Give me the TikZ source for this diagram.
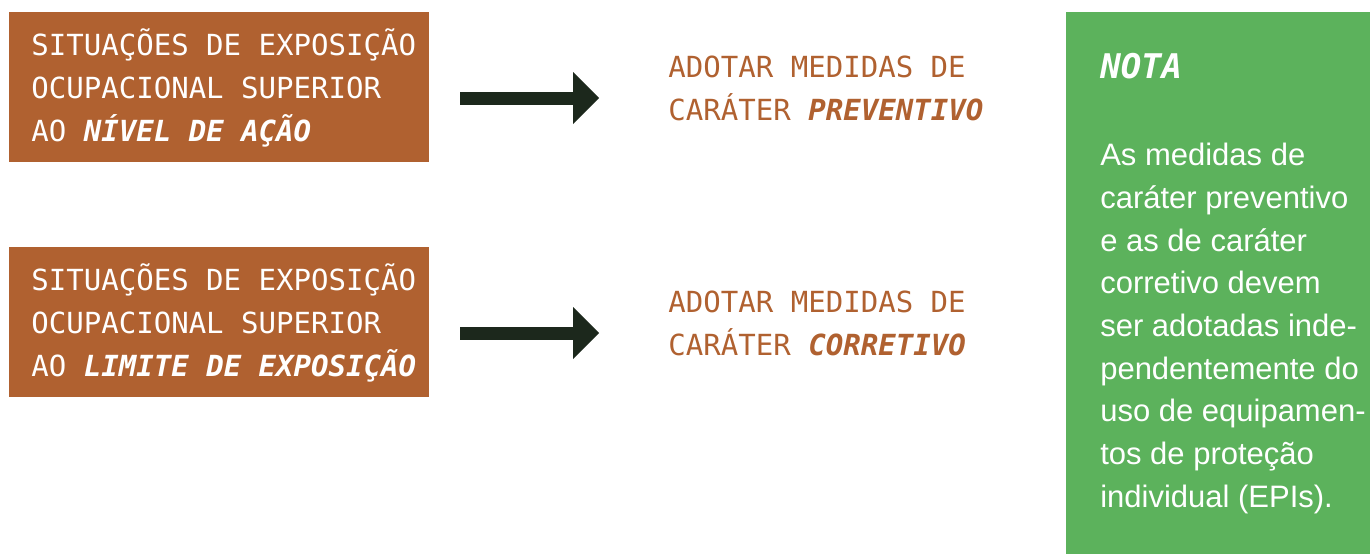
\documentclass[tikz,border=0pt]{standalone}
\usepackage{fontspec}
\setmainfont{Liberation Sans}
\newfontfamily\monofonte{DejaVu Sans Mono}
\usetikzlibrary{arrows.meta,positioning}

\definecolor{telha}{RGB}{176,97,48}
\definecolor{verde}{RGB}{92,178,92}
\definecolor{escuro}{RGB}{28,40,28}

\tikzset{
  caixa/.style={fill=telha, minimum width=315pt, minimum height=112.5pt, inner sep=0pt},
  rotulo/.style={text=white, anchor=base west, inner sep=0pt, align=left,
    font=\monofonte\fontsize{21.8}{32.2}\selectfont},
  medida/.style={text=telha, anchor=base west, inner sep=0pt, align=left,
    font=\monofonte\fontsize{21.8}{32.2}\selectfont},
  seta/.style={escuro, line width=9.75pt,
    -{Triangle[length=19.5pt,width=39pt,line width=0pt]}},
}

\begin{document}
\begin{tikzpicture}[x=0.75pt,y=-0.75pt]
  \useasboundingbox (0,0) rectangle (1370,554);

  % situacoes
  \node[caixa] (sit1) at (219,87) {};
  \node[rotulo] (sit1txt) at (31,141) {SITUAÇÕES DE EXPOSIÇÃO\\OCUPACIONAL SUPERIOR\\AO \textbf{\textit{NÍVEL DE AÇÃO}}};
  \node[caixa] (sit2) at (219,322) {};
  \node[rotulo] (sit2txt) at (31,376) {SITUAÇÕES DE EXPOSIÇÃO\\OCUPACIONAL SUPERIOR\\AO \textbf{\textit{LIMITE DE EXPOSIÇÃO}}};

  % medidas
  \node[medida] (med1) at (668,120) {ADOTAR MEDIDAS DE\\CARÁTER \textbf{\textit{PREVENTIVO}}};
  \node[medida] (med2) at (668,355) {ADOTAR MEDIDAS DE\\CARÁTER \textbf{\textit{CORRETIVO}}};

  \draw[seta] ([shift={(31,11)}]sit1.east) -- ([shift={(-69,11)}]sit1.east -| med1.west);
  \draw[seta] ([shift={(31,11)}]sit2.east) -- ([shift={(-69,11)}]sit2.east -| med2.west);

  % nota
  \fill[verde] (1066,12) rectangle (1370,554);
  \node[anchor=base west, inner sep=0pt, text=white,
    font=\monofonte\fontsize{25.5}{30}\selectfont\bfseries\itshape] (titulo) at (1100,78) {NOTA};
  \node[anchor=base west, inner sep=0pt, text=white, align=left,
    font=\fontsize{23.25}{32}\selectfont] (texto) at (1100,507)
    {As medidas de\\caráter preventivo\\e as de caráter\\corretivo devem\\ser adotadas inde-\\pendentemente do\\uso de equipamen-\\tos de proteção\\individual (EPIs).};
\end{tikzpicture}
\end{document}
